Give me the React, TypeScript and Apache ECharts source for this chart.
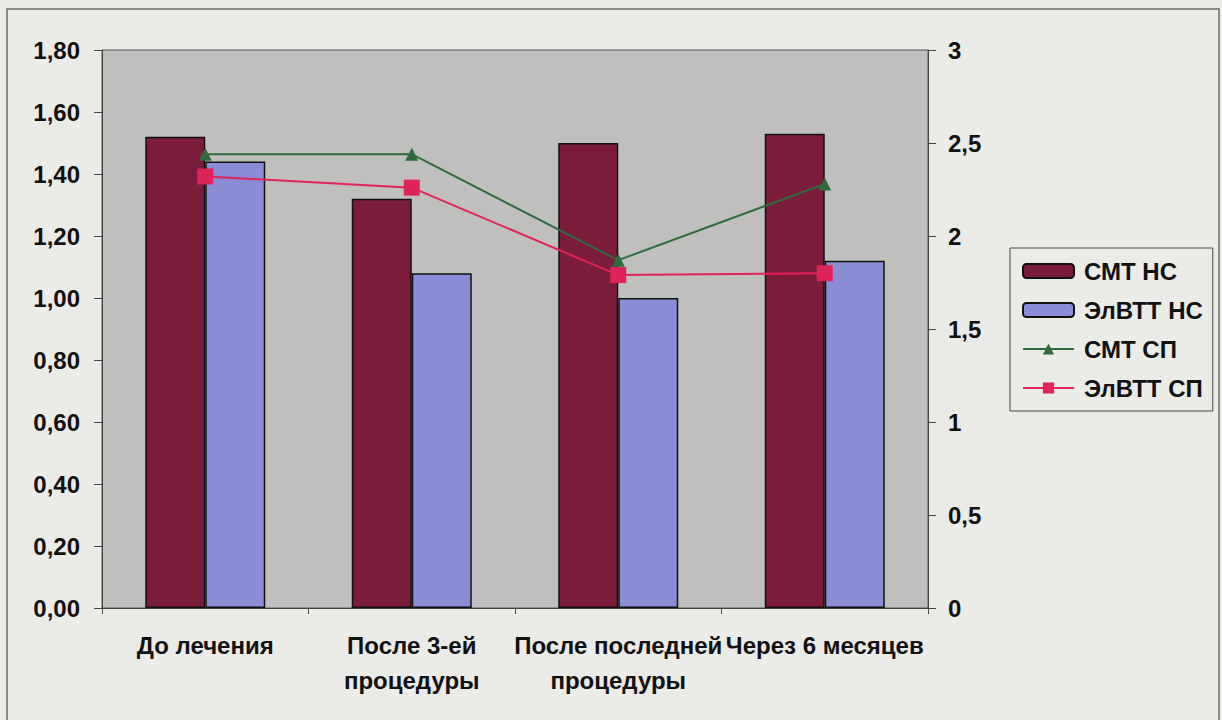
import React, { useEffect, useRef } from "react";
import * as echarts from "echarts";

const categories = ["До лечения", "После 3-ей\nпроцедуры", "После последней\nпроцедуры", "Через 6 месяцев"];
const smtNS = [1.52, 1.32, 1.5, 1.53];
const elvttNS = [1.44, 1.08, 1.0, 1.12];
const smtSP = [2.44, 2.44, 1.87, 2.28];
const elvttSP = [2.32, 2.26, 1.79, 1.8];
const seriesNames = ["СМТ НС", "ЭлВТТ НС", "СМТ СП", "ЭлВТТ СП"];

const FONT = "'Liberation Sans', Arial, sans-serif";
const FS = 24;

export default function App() {
  const ref = useRef<HTMLDivElement>(null);
  useEffect(() => {
    if (!ref.current) return;
    const chart = echarts.init(ref.current, undefined, { renderer: "svg" });
    chart.setOption({
      animation: false,
      backgroundColor: "#ebebe8",
      textStyle: { fontFamily: FONT },
      graphic: [
        {
          type: "rect",
          shape: { x: 7, y: 9, width: 1212, height: 720 },
          style: { fill: "none", stroke: "#8a8a8a", lineWidth: 2 },
          silent: true,
        },
      ],
      grid: {
        left: 102,
        right: 294,
        top: 50,
        bottom: 112,
        show: true,
        backgroundColor: "#bfbfbd",
        borderColor: "#555",
        borderWidth: 1,
      },
      legend: {
        orient: "vertical",
        left: 1010,
        top: 248,
        padding: [11, 10, 11, 12],
        itemWidth: 51,
        itemHeight: 14,
        itemGap: 15,
        borderColor: "#444",
        borderWidth: 1,
        backgroundColor: "#ebebe8",
        textStyle: {
          fontFamily: FONT,
          fontSize: FS,
          fontWeight: "bold",
          lineHeight: 24,
          color: "#111",
          padding: [0, 0, 0, 5],
        },
        data: seriesNames,
      },
      xAxis: {
        type: "category",
        data: categories,
        boundaryGap: true,
        axisLine: { lineStyle: { color: "#444", width: 1 } },
        axisTick: { show: true, length: 6, lineStyle: { color: "#444" } },
        axisLabel: {
          interval: 0,
          margin: 20,
          fontFamily: FONT,
          fontSize: FS,
          fontWeight: "bold",
          lineHeight: 35,
          color: "#111",
        },
      },
      yAxis: [
        {
          type: "value",
          min: 0,
          max: 1.8,
          interval: 0.2,
          position: "left",
          splitLine: { show: false },
          axisLine: { show: true, lineStyle: { color: "#444" } },
          axisTick: { show: true, length: 8, lineStyle: { color: "#444" } },
          axisLabel: {
            margin: 22,
            fontFamily: FONT,
            fontSize: FS,
            fontWeight: "bold",
            color: "#111",
            formatter: (v: number) => v.toFixed(2).replace(".", ","),
          },
        },
        {
          type: "value",
          min: 0,
          max: 3,
          interval: 0.5,
          position: "right",
          splitLine: { show: false },
          axisLine: { show: true, lineStyle: { color: "#444" } },
          axisTick: { show: true, length: 8, lineStyle: { color: "#444" } },
          axisLabel: {
            margin: 20,
            fontFamily: FONT,
            fontSize: FS,
            fontWeight: "bold",
            color: "#111",
            formatter: (v: number) => String(v).replace(".", ","),
          },
        },
      ],
      series: [
        {
          name: seriesNames[0],
          type: "bar",
          yAxisIndex: 0,
          data: smtNS,
          barWidth: 60,
          barGap: "0%",
          barCategoryGap: "42%",
          itemStyle: { color: "#7a1c3a", borderColor: "#111", borderWidth: 1.5 },
        },
        {
          name: seriesNames[1],
          type: "bar",
          yAxisIndex: 0,
          data: elvttNS,
          barWidth: 60,
          barGap: "0%",
          itemStyle: { color: "#8a8cd6", borderColor: "#111", borderWidth: 1.5 },
        },
        {
          name: seriesNames[2],
          type: "line",
          yAxisIndex: 1,
          data: smtSP,
          symbol: "triangle",
          symbolSize: 13,
          lineStyle: { color: "#2f6b3c", width: 2 },
          itemStyle: { color: "#2f6b3c" },
          z: 5,
        },
        {
          name: seriesNames[3],
          type: "line",
          yAxisIndex: 1,
          data: elvttSP,
          symbol: "rect",
          symbolSize: 16,
          lineStyle: { color: "#e0245a", width: 2 },
          itemStyle: { color: "#e0245a" },
          z: 5,
        },
      ],
    });
    return () => chart.dispose();
  }, []);
  return (
    <div
      ref={ref}
      style={{ position: "fixed", left: 0, top: 0, width: 1222, height: 720 }}
    />
  );
}
